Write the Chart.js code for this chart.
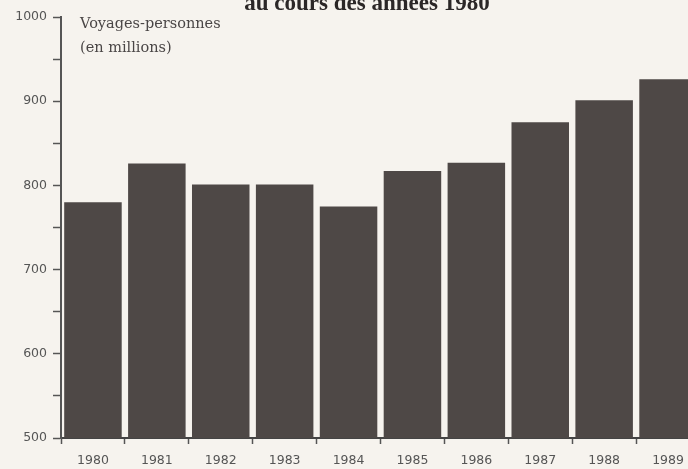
<!DOCTYPE html>
<html>
<head>
<meta charset="utf-8">
<script src="https://cdn.jsdelivr.net/npm/chart.js@4/dist/chart.umd.min.js"></script>
<style>
  html, body { margin: 0; padding: 0; background: #f6f3ee; overflow: hidden; }
  #wrap { width: 712px; height: 469px; }
</style>
</head>
<body>
<div id="wrap"><canvas id="chart" width="712" height="469"></canvas></div>
<script>
// data
var years = ['1980', '1981', '1982', '1983', '1984', '1985', '1986', '1987', '1988', '1989'];
var voyages = [780, 826, 801, 801, 775, 817, 827, 875, 901, 926];
var yTicks = [500, 600, 700, 800, 900, 1000];
var titleText = 'au cours des années 1980';
var axisLabel = ['Voyages-personnes', '(en millions)'];

// draws the cut-off title and the unit label inside the plot
var textPlugin = {
    id: 'texts',
    afterDraw: function(chart) {
        var ctx = chart.ctx;
        var area = chart.chartArea;
        ctx.save();
        ctx.fillStyle = '#2b2727';
        ctx.font = 'bold 23px "Liberation Serif"';
        ctx.textAlign = 'center';
        ctx.textBaseline = 'alphabetic';
        ctx.fillText(titleText, 367, 10);

        ctx.fillStyle = '#4a4646';
        ctx.font = '14.5px "DejaVu Serif"';
        ctx.textAlign = 'left';
        ctx.fillText(axisLabel[0], area.left + 19, area.top + 11);
        ctx.fillText(axisLabel[1], area.left + 19, area.top + 35);
        ctx.restore();
    }
};

var ctx = document.getElementById('chart').getContext('2d');
var chart = new Chart(ctx, {
    type: 'bar',
    data: {
        labels: years,
        datasets: [{
            label: 'Voyages-personnes',
            data: voyages,
            backgroundColor: '#4e4846',
            borderWidth: 0,
            barPercentage: 0.9,
            categoryPercentage: 1.0
        }]
    },
    options: {
        responsive: false,
        animation: false,
        layout: { padding: { top: 17, right: 12, bottom: 0, left: 0 } },
        plugins: {
            legend: { display: false },
            tooltip: { enabled: false },
            title: { display: false }
        },
        scales: {
            x: {
                afterFit: function(scale) { scale.height = 31; },
                grid: { offset: true, drawOnChartArea: false, tickLength: 6, tickColor: '#555', tickWidth: 1.5 },
                border: { color: '#444', width: 2 },
                ticks: { color: '#555', font: { family: 'DejaVu Sans', size: 12.5 }, padding: 9, maxRotation: 0 }
            },
            y: {
                min: 500,
                max: 1000,
                afterFit: function(scale) { scale.width = 61; },
                grid: { drawOnChartArea: false, tickLength: 8, tickColor: '#555', tickWidth: 1.5 },
                border: { color: '#555', width: 2 },
                ticks: {
                    stepSize: 50,
                    color: '#555',
                    font: { family: 'DejaVu Sans', size: 12.5 },
                    padding: 6,
                    callback: function(v) { return yTicks.indexOf(v) >= 0 ? v : ''; }
                }
            }
        }
    },
    plugins: [textPlugin]
});
</script>
</body>
</html>
